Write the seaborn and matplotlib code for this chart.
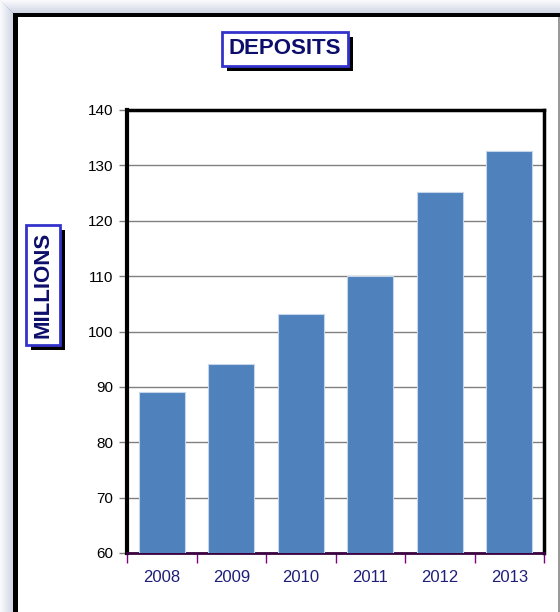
import matplotlib
matplotlib.use("Agg")
import matplotlib.pyplot as plt
import seaborn as sns
import pandas as pd
import numpy as np
from matplotlib.patches import Rectangle

years = ["2008", "2009", "2010", "2011", "2012", "2013"]
deposits = [89.0, 94.2, 103.2, 110.1, 125.2, 132.6]
yticks = [60, 70, 80, 90, 100, 110, 120, 130, 140]

sns.set_theme(style="white")
plt.rcParams['font.family'] = ['Liberation Sans', 'DejaVu Sans']

W, H = 560, 612
fig = plt.figure(figsize=(W / 100, H / 100), dpi=100)
fig.patch.set_facecolor("white")

# outer shadow gradient (left and top)
for i in range(13):
    a = 0.05 + 0.35 * (i / 12.0)
    fig.patches.append(Rectangle((i / W, 0), 1 / W, 1 - (i) / H, transform=fig.transFigure,
                                 facecolor=(0.55, 0.6, 0.75), alpha=a, edgecolor='none', zorder=0))
    fig.patches.append(Rectangle((i / W, 1 - (i + 1) / H), 1 - i / W, 1 / H, transform=fig.transFigure,
                                 facecolor=(0.55, 0.6, 0.75), alpha=a, edgecolor='none', zorder=0))
# outer black frame
fig.patches.append(Rectangle((13 / W, 0), 5 / W, 1 - 13 / H, transform=fig.transFigure,
                             facecolor='black', edgecolor='none', zorder=1))
fig.patches.append(Rectangle((13 / W, 1 - 17 / H), 1 - 13 / W, 4 / H, transform=fig.transFigure,
                             facecolor='black', edgecolor='none', zorder=1))
fig.patches.append(Rectangle((558 / W, 0), 2 / W, 1 - 17 / H, transform=fig.transFigure,
                             facecolor='#999999', edgecolor='none', zorder=1))

ax = fig.add_axes([127 / W, 1 - 553 / H, (544 - 127) / W, (553 - 110) / H])
df = pd.DataFrame({"year": years, "deposits": deposits})
sns.barplot(data=df, x="year", y="deposits", color="#4f81bd", saturation=1,
            width=0.66, edgecolor="#c5d5ea", linewidth=0.8, ax=ax, zorder=3)

ax.set_ylim(60, 140)
ax.set_xlim(-0.5, 5.5)
ax.set_yticks(yticks)
ax.set_yticklabels([str(t) for t in yticks], fontsize=11, color='black')
ax.yaxis.grid(True, color='#808080', linewidth=1, zorder=0)
ax.set_axisbelow(True)
ax.set_xlabel("")
ax.set_ylabel("")
ax.tick_params(axis='y', which='major', length=6, width=1, color='#808080', left=True, pad=4)
ax.tick_params(axis='x', which='major', length=0, pad=12, labelsize=12, labelcolor='#1f1f7a')
ax.set_xticks(np.arange(-0.5, 6.0, 1.0), minor=True)
ax.tick_params(axis='x', which='minor', length=7, width=1, color='#800080', direction='out', bottom=True)

for s in ['top', 'right']:
    ax.spines[s].set_color('black')
    ax.spines[s].set_linewidth(2.5)
ax.spines['left'].set_color('black')
ax.spines['left'].set_linewidth(3)
ax.spines['bottom'].set_color('#3a003f')
ax.spines['bottom'].set_linewidth(2)

labels = []
def boxed(x, y, s, rot, fs):
    t = fig.text(x, y, s, ha='center', va='center', rotation=rot, fontsize=fs,
                 fontweight='bold', color='#0d0d6b', zorder=5,
                 bbox=dict(boxstyle='square,pad=0.3', facecolor='white', edgecolor='#3333cc', linewidth=2))
    labels.append(t)

boxed(285 / W, 1 - 49 / H, "DEPOSITS", 0, 16)
boxed(43 / W, 1 - 285 / H, "MILLIONS", 90, 16)

fig.canvas.draw()
for t in labels:
    bb = t.get_bbox_patch().get_window_extent()
    fig.patches.append(Rectangle(((bb.x0 + 5) / W, (bb.y0 - 5) / H), bb.width / W, bb.height / H,
                                 transform=fig.transFigure, facecolor='black', edgecolor='none', zorder=2))

fig.savefig("out.png", dpi=100)
